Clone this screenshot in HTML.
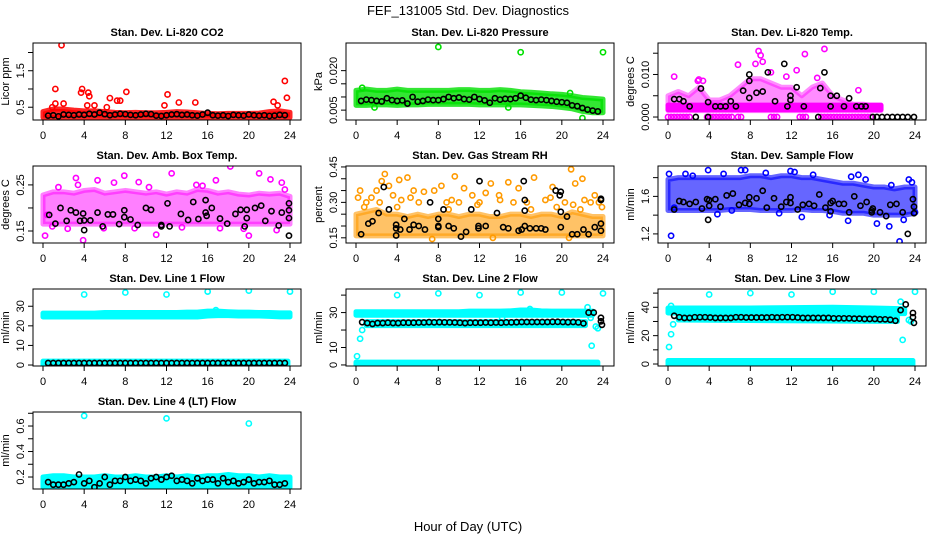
<!DOCTYPE html>
<html><head><meta charset="utf-8">
<style>
html,body{margin:0;padding:0;background:#fff;}
svg{display:block;font-family:"Liberation Sans",sans-serif;}
</style></head>
<body>
<svg id="chart" width="936" height="540" viewBox="0 0 936 540" xmlns="http://www.w3.org/2000/svg">
<text x="468" y="15" text-anchor="middle" font-size="13">FEF_131005  Std. Dev. Diagnostics</text>
<text x="468" y="531" text-anchor="middle" font-size="13">Hour of Day (UTC)</text>
</svg>
<script>
const hours=[0,1,2,3,4,5,6,7,8,9,10,11,12,13,14,15,16,17,18,19,20,21,22,23,24];
const halfHours=[0.5,1,1.5,2,2.5,3,3.5,4,4.5,5,5.5,6,6.5,7,7.5,8,8.5,9,9.5,10,10.5,11,11.5,12,12.5,13,13.5,14,14.5,15,15.5,16,16.5,17,17.5,18,18.5,19,19.5,20,20.5,21,21.5,22,22.5,23,23.5];
const xTicks=[0,4,8,12,16,20,24];
const fullSpan=[0,23.8];

// CO2
const co2Lo=[0.22,0.22,0.22,0.22,0.22,0.22,0.22,0.22,0.22,0.22,0.22,0.22,0.22,0.22,0.22,0.22,0.22,0.22,0.22,0.22,0.22,0.22,0.22,0.22,0.22];
const co2Hi=[0.38,0.45,0.45,0.42,0.4,0.4,0.38,0.36,0.35,0.36,0.35,0.35,0.36,0.38,0.37,0.35,0.33,0.32,0.33,0.33,0.33,0.34,0.38,0.4,0.36];
const co2OutX=[1.8,1.2,3.8,3.7,4.4,4.5,6.5,7.2,7.5,8.1,12.1,13.2,14.8,22.4,23.5,23.7,1.2,2.0,5.0,6.2,11.8,0.9,4.3,22.8];
const co2OutY=[2.2,1.0,1.0,0.9,0.9,0.8,0.75,0.68,0.68,0.92,0.85,0.63,0.63,0.65,1.22,0.76,0.6,0.6,0.55,0.5,0.55,0.5,0.55,0.55];
const co2BlkY=[0.27,0.28,0.25,0.3,0.29,0.28,0.3,0.29,0.32,0.3,0.35,0.31,0.28,0.3,0.32,0.31,0.29,0.28,0.3,0.32,0.31,0.27,0.26,0.28,0.3,0.31,0.29,0.3,0.28,0.27,0.3,0.35,0.28,0.27,0.28,0.26,0.29,0.28,0.27,0.3,0.28,0.27,0.28,0.26,0.27,0.29,0.28];
const co2Ticks=[0.5,1.0,1.5,2.0];
const co2Labels=["0.5","","1.5",""];

// Pressure
const presLo=[0.0068,0.0068,0.007,0.007,0.0068,0.007,0.007,0.0072,0.0072,0.0072,0.0072,0.0072,0.007,0.007,0.007,0.007,0.007,0.0068,0.0066,0.0064,0.006,0.0055,0.0045,0.004,0.004];
const presHi=[0.0125,0.013,0.0125,0.0125,0.013,0.0125,0.0125,0.0125,0.0125,0.0125,0.0128,0.0128,0.0125,0.0125,0.0128,0.0125,0.012,0.0118,0.0115,0.0112,0.011,0.0105,0.0098,0.0095,0.0092];
const presOutX=[8,16,24,0.6,22,1.8,20.8,14.8];
const presOutY=[0.029,0.027,0.027,0.0135,0.002,0.006,0.0115,0.006];
const presBlkY=[0.0085,0.009,0.0088,0.0085,0.0083,0.0095,0.0088,0.0085,0.0087,0.0075,0.01,0.0082,0.0085,0.009,0.0088,0.0088,0.0092,0.01,0.0095,0.0098,0.0092,0.009,0.01,0.0092,0.0087,0.0078,0.0095,0.009,0.0093,0.0092,0.0095,0.0105,0.0097,0.009,0.0088,0.009,0.0088,0.0085,0.0082,0.008,0.0078,0.0068,0.0065,0.0058,0.0052,0.0048,0.0045];
const presTicks=[0.005,0.010,0.015,0.020];
const presLabels=["0.005","","","0.020"];

// Li-820 temp
const tempBandX=[0,1,2,3,4,5,6,7,8,9,10,11,12,13,14,15,16,17,18,19,20,20.7];
const tempLo=[0.0015,0.0015,0.0015,0.0015,0.0015,0.0015,0.0015,0.0015,0.0015,0.0015,0.0015,0.0015,0.0015,0.0015,0.0015,0.0015,0.0015,0.0015,0.0015,0.0015,0.0015,0.0015];
const tempHi=[0.005,0.006,0.005,0.007,0.004,0.004,0.005,0.007,0.009,0.009,0.008,0.007,0.007,0.005,0.007,0.008,0.005,0.004,0.003,0.003,0.0025,0.0025];
const tempBaseX=[0,20.7];
const tempBaseLo=[0.0017,0.0017];
const tempBaseHi=[0.0028,0.0028];
const tempZeroX=[0,0.3,0.6,0.9,1.2,1.5,1.8,2.1,3.8,4.1,4.4,4.7,5.0,5.3,5.6,5.9,6.2,6.8,7.1,10.0,10.3,10.6,12.8,13.1,13.4,14.9,15.2,15.5,15.8,16.1,16.4,16.7,17.0,17.3,17.6,17.9,18.2,18.5,18.8,19.1,19.4,19.7];
const tempZeroY=tempZeroX.map(()=>0);
const tempOutX=[8.8,9.0,15.2,13.3,6.8,9.2,12.5,0.6,3.0,10.0,11.5,18.5,8.5,14.5,2.9,3.4];
const tempOutY=[0.0155,0.0145,0.016,0.0148,0.0123,0.013,0.011,0.0095,0.0088,0.0105,0.0095,0.0063,0.0125,0.0092,0.0085,0.0085];
const tempBlkX=[0.6,1.1,1.5,2.1,2.7,3.2,3.9,3.9,4.6,5.1,5.6,6.1,6.6,7.3,7.9,7.9,7.9,8.6,9.2,9.7,10.4,11.3,11.6,11.9,11.9,12.5,13.2,14.6,14.8,15.2,15.8,15.8,16.4,17.1,17.6,18.3,18.8,19.2,19.9,20.3,20.8,21.3,21.8,22.3,22.8,23.3,23.9];
const tempBlkY=[0.0042,0.0042,0.0037,0.0025,0,0.0067,0.0035,0,0.0025,0.0025,0.0025,0.0037,0.0025,0.0062,0.01,0.0085,0.0045,0.0057,0.006,0.0105,0.0037,0.0125,0.0025,0.005,0.004,0.007,0.0025,0,0.0068,0.0105,0.005,0.0025,0.005,0.0025,0.0044,0.0025,0.0025,0.0025,0,0,0,0,0,0,0,0,0];
const tempTicks=[0,0.005,0.010,0.015];
const tempLabels=["0.000","","0.010",""];

// Amb box temp
const ambLo=[0.165,0.165,0.165,0.165,0.165,0.165,0.165,0.165,0.165,0.165,0.165,0.165,0.165,0.165,0.165,0.165,0.165,0.165,0.165,0.165,0.165,0.165,0.165,0.165,0.165];
const ambHi=[0.228,0.235,0.235,0.232,0.238,0.24,0.232,0.235,0.238,0.235,0.232,0.235,0.23,0.235,0.232,0.24,0.238,0.232,0.235,0.23,0.228,0.232,0.23,0.232,0.225];
const ambOutX=[0.2,3.9,3.2,5.3,7.9,12.5,18.2,21,22.1,23.2,16.8,9.3,0.9,20,11,6.9,14.9,3.4,0.4,2.4,5.9,8.9,13.5,17.2,19.5,22.7,1.5,10.3,15.5,23.5];
const ambOutY=[0.14,0.13,0.265,0.26,0.27,0.275,0.29,0.275,0.262,0.255,0.26,0.256,0.16,0.14,0.142,0.255,0.25,0.25,0.185,0.155,0.156,0.156,0.158,0.156,0.155,0.152,0.245,0.245,0.248,0.24];
const ambBlkX=[0.6,1.2,1.7,2.3,2.7,3.2,3.6,3.9,4.0,4.0,4.6,5.3,5.8,6.3,6.8,7.4,7.9,7.9,8.5,9.2,10,10.5,11.5,11.5,12.1,12.3,13.4,14.1,14.6,15.1,15.8,15.8,15.9,16.4,17.2,17.9,18.7,19.2,19.6,19.8,19.8,20.6,21.2,21.6,22.2,22.9,23.2,23.9,23.9,23.9,23.9];
const ambBlkY=[0.185,0.166,0.2,0.172,0.195,0.19,0.172,0.188,0.173,0.152,0.173,0.19,0.16,0.186,0.186,0.165,0.195,0.18,0.175,0.163,0.2,0.196,0.163,0.16,0.21,0.16,0.187,0.174,0.213,0.176,0.19,0.217,0.183,0.2,0.177,0.166,0.187,0.196,0.16,0.196,0.178,0.2,0.205,0.172,0.193,0.162,0.19,0.21,0.195,0.178,0.14];
const ambTicks=[0.15,0.20,0.25];
const ambLabels=["0.15","","0.25"];

// RH
const rhLo=[0.158,0.158,0.158,0.158,0.158,0.158,0.158,0.158,0.158,0.158,0.158,0.158,0.158,0.158,0.158,0.158,0.158,0.158,0.158,0.158,0.158,0.158,0.158,0.158,0.158];
const rhHi=[0.25,0.26,0.27,0.25,0.25,0.24,0.25,0.24,0.25,0.25,0.24,0.25,0.25,0.24,0.24,0.25,0.25,0.24,0.25,0.25,0.24,0.26,0.25,0.24,0.24];
const rhOutX=[0.2,0.4,1.5,2.0,2.5,2.8,3.2,4.2,5.0,5.6,6.6,7.6,8.3,9.6,10.5,11.3,12.6,13.1,14.8,15.8,17.3,19.1,20.9,21.3,22.0,23.2,1.0,4.4,6.1,8.8,10.0,12.0,14.0,16.6,18.4,20.3,22.2,23.6,7.4,13.3,20.7,4.0,9.0,17,19.5,21.8,0.8,2.3,3.6,5.3,9.3,11.8,13.9,15.3,18.9,21.1,22.8,23.9];
const rhOutY=[0.32,0.35,0.32,0.35,0.39,0.42,0.37,0.395,0.405,0.35,0.345,0.35,0.37,0.41,0.36,0.33,0.34,0.38,0.385,0.36,0.405,0.365,0.44,0.38,0.4,0.33,0.3,0.31,0.3,0.3,0.3,0.3,0.31,0.3,0.31,0.3,0.31,0.3,0.145,0.15,0.15,0.28,0.27,0.27,0.28,0.27,0.28,0.3,0.33,0.32,0.31,0.29,0.33,0.3,0.32,0.29,0.3,0.28];
const rhBlkX=[0.5,1.2,1.6,2.2,2.7,3.2,3.9,3.9,3.9,4.3,4.7,5.2,5.6,6.1,6.7,7.2,8.0,8.0,8.0,8.5,9.0,9.5,10.2,10.7,11.2,11.9,11.9,12.0,12.6,13.7,14.3,14.8,15.8,16.1,16.3,16.4,16.4,16.4,16.9,17.5,18.0,18.4,19.4,19.8,19.9,19.9,19.9,20.5,21.0,21.5,22.1,22.6,23.2,23.8,23.8,23.8,23.8];
const rhBlkY=[0.165,0.21,0.22,0.255,0.365,0.27,0.205,0.19,0.16,0.185,0.23,0.185,0.205,0.2,0.185,0.3,0.195,0.2,0.23,0.27,0.2,0.19,0.155,0.175,0.27,0.2,0.19,0.39,0.2,0.255,0.195,0.19,0.18,0.185,0.39,0.31,0.265,0.2,0.19,0.19,0.19,0.185,0.35,0.33,0.345,0.26,0.195,0.24,0.165,0.165,0.185,0.165,0.195,0.21,0.31,0.315,0.18];
const rhTicks=[0.15,0.20,0.25,0.30,0.35,0.40,0.45];
const rhLabels=["0.15","","","0.30","","","0.45"];

// Sample flow
const sfLo=[1.45,1.45,1.45,1.45,1.45,1.45,1.46,1.46,1.46,1.45,1.45,1.45,1.45,1.46,1.45,1.45,1.44,1.42,1.42,1.42,1.40,1.40,1.40,1.40,1.42];
const sfHi=[1.78,1.8,1.8,1.8,1.8,1.8,1.8,1.8,1.82,1.82,1.8,1.82,1.82,1.8,1.8,1.78,1.76,1.74,1.74,1.72,1.7,1.7,1.68,1.7,1.7];
const sfOutX=[0.1,0.3,1.7,3.9,7.1,7.5,11.9,12.3,17.5,18.5,20.3,21.5,21.7,22.5,22.9,23.4,23.7,17.8,13.0,6.2,0.6,15.7,2.4,5.4,9.5,14.1,19.2,24.0,10.8,4.8];
const sfOutY=[1.84,1.18,1.84,1.88,1.88,1.88,1.87,1.86,1.34,1.83,1.31,1.28,1.72,1.12,1.35,1.78,1.75,1.81,1.38,1.45,1.48,1.4,1.82,1.84,1.85,1.83,1.78,1.43,1.42,1.41];
const sfBlkX=[0.6,1.1,1.5,2.1,2.7,3.3,3.8,3.9,4.0,4.0,4.6,5.1,5.7,6.3,6.9,7.5,7.9,7.9,8.6,9.2,9.6,10.3,11.0,11.5,11.9,11.9,12.6,13.1,13.7,14.2,14.7,15.3,15.8,15.8,16.0,16.6,17.1,17.6,18.1,18.7,19.3,19.8,19.8,19.9,20.6,21.2,21.6,22.2,22.8,23.3,23.8,23.9,23.9];
const sfBlkY=[1.46,1.55,1.54,1.52,1.54,1.47,1.57,1.35,1.5,1.56,1.57,1.49,1.61,1.63,1.51,1.53,1.59,1.52,1.58,1.66,1.48,1.58,1.49,1.54,1.53,1.59,1.46,1.51,1.52,1.5,1.62,1.48,1.44,1.53,1.55,1.52,1.52,1.43,1.6,1.5,1.54,1.45,1.43,1.47,1.43,1.39,1.51,1.52,1.43,1.2,1.57,1.49,1.42];
const sfTicks=[1.2,1.4,1.6,1.8];
const sfLabels=["1.2","","1.6",""];

// Line 1
const l1Lo=[24.5,24.5,24.5,24.5,24.5,24.5,24.5,24.5,24.5,24.5,24.5,24.5,24.5,24.5,24.5,24.5,25,25.2,25.2,25,25,25,24.8,24.6,24.6];
const l1Hi=[26.5,26.5,26.5,26.5,26.5,26.5,26.8,26.8,26.8,26.8,26.8,26.8,26.8,26.8,27,27,27.5,27.5,27.2,27,27,26.8,26.8,26.6,26.6];
const l1ZeroLo=[0,0];
const l1ZeroHi=[2,2];
const l1OutX=[4,8,12,16,20,24,16.8];
const l1OutY=[36,37,36,37.5,38,37.5,28];
const l1BlkY=[1,1,1,1,1,1,1,1,1,1,1,1,1,1,1,1,1,1,1,1,1,1,1,1,1,1,1,1,1,1,1,1,1,1,1,1,1,1,1,1,1,1,1,1,1,1,1];
const l1Ticks=[0,10,20,30];
const l1Labels=["0","10","20","30"];

// Line 2
const l2Lo=[28.5,28.5,28.5,28.5,28.5,28.5,28.5,28.5,28.5,28.5,28.5,28.5,28.5,28.5,28.5,28.5,28.5,28.5,28.5,28.5,28.5,28.5,28.5,28.5];
const l2Hi=[30.5,30.5,30.5,30.5,30.5,30.5,30.5,30.5,30.5,30.5,30.5,30.8,30.8,30.8,30.8,31,31.5,31.5,31,30.8,30.8,30.8,30.8,30.8];
const l2Band2X=[1,22.3];
const l2Band2Lo=[22.5,22.5];
const l2Band2Hi=[24.8,24.8];
const l2ZeroX=[0,23.5];
const l2ZeroLo=[-0.2,-0.2];
const l2ZeroHi=[1.6,1.6];
const l2OutX=[0.1,0.4,0.6,1.0,4,8,12,16,20,24,16.9,22.5,22.8,22.9,23.3,23.5,14.2];
const l2OutY=[5,15,20,24,40,41,40,41.5,41.5,41,32,33,27,11,22,21,27];
const l2BlkX=[0.6,1.1,1.6,2.1,2.6,3.1,3.6,4.1,4.6,5.1,5.6,6.1,6.6,7.1,7.6,8.1,8.6,9.1,9.6,10.1,10.6,11.1,11.6,12.1,12.6,13.1,13.6,14.1,14.6,15.1,15.6,16.1,16.6,17.1,17.6,18.1,18.6,19.1,19.6,20.1,20.6,21.1,21.6,22.1,22.6,23.1,23.8,23.8,23.9];
const l2BlkY=[24.5,24,23.5,24,24,24.2,24,24,24.2,24.2,24.2,24.3,24.3,24.5,24.4,24.5,24.4,24.4,24.3,24.2,24,24.2,24.2,24.2,24.3,24.2,24.3,24.2,24.4,24.4,24.5,24.6,24.6,24.6,24.6,24.6,24.6,24.7,24.7,24.6,24.5,24.6,24.4,23.8,30,30,27,25,23];
const l2Ticks=[0,10,20,30,40];
const l2Labels=["0","10","","30",""];

// Line 3
const l3BandX=[0,4,8,12,16,20,23];
const l3Lo=[36,36,36,36.2,36.2,35.8,35.5];
const l3Hi=[39.5,39.5,39.5,39.8,40,39.5,39];
const l3Band2X=[1,22.3];
const l3Band2Lo=[31,30];
const l3Band2Hi=[34,33];
const l3ZeroX=[0,23.8];
const l3ZeroLo=[-0.5,-0.5];
const l3ZeroHi=[2.5,2.5];
const l3OutX=[0.1,0.3,0.5,0.3,4,8,12,16,20,24,22.6,22.8,23.4,23.6];
const l3OutY=[12,21,28,41,49,50,49,51,51,51,44,17,31,30];
const l3BlkX=[0.6,1.1,1.6,2.1,2.6,3.1,3.6,4.1,4.6,5.1,5.6,6.1,6.6,7.1,7.6,8.1,8.6,9.1,9.6,10.1,10.6,11.1,11.6,12.1,12.6,13.1,13.6,14.1,14.6,15.1,15.6,16.1,16.6,17.1,17.6,18.1,18.6,19.1,19.6,20.1,20.6,21.1,21.6,22.1,22.6,23.1,23.8,23.8,23.9];
const l3BlkY=[34,33,32.5,32.5,33,33,33,32.8,32.5,32.5,32.5,32.5,33,33,32.8,32.8,32.8,32.8,32.8,33,32.8,33,33,33,32.8,32.5,32.5,32.5,32.5,32.5,32.5,32.2,32.2,32.2,32.2,32,32,31.8,31.8,31.8,31.5,31.5,31.2,30.5,38,42,36,33,29];
const l3Ticks=[0,10,20,30,40,50];
const l3Labels=["0","","20","","40",""];

// Line 4
const l4Lo=[0.12,0.12,0.12,0.12,0.12,0.12,0.12,0.12,0.12,0.12,0.12,0.12,0.12,0.12,0.12,0.12,0.12,0.12,0.12,0.12,0.12,0.12,0.12,0.12,0.12];
const l4Hi=[0.2,0.21,0.21,0.2,0.2,0.2,0.21,0.2,0.2,0.21,0.2,0.2,0.21,0.2,0.21,0.2,0.21,0.21,0.22,0.21,0.21,0.2,0.21,0.2,0.2];
const l4OutX=[4,12,20];
const l4OutY=[0.68,0.66,0.62];
const l4BlkY=[0.16,0.14,0.14,0.14,0.15,0.16,0.22,0.15,0.17,0.12,0.15,0.2,0.14,0.17,0.17,0.2,0.17,0.18,0.17,0.15,0.19,0.2,0.18,0.2,0.21,0.17,0.18,0.17,0.15,0.19,0.17,0.18,0.18,0.15,0.19,0.16,0.17,0.15,0.16,0.18,0.15,0.16,0.16,0.17,0.14,0.14,0.15];
const l4Ticks=[0.2,0.3,0.4,0.5,0.6,0.7];
const l4Labels=["0.2","","0.4","","0.6",""];

const NS="http://www.w3.org/2000/svg";
const svg=document.getElementById('chart');
const colLeft=[33,346,658], rowTop=[43,166,289,412], boxW=268, boxH=77;

function mk(tag,attrs,parent){const e=document.createElementNS(NS,tag);for(const k in attrs)e.setAttribute(k,attrs[k]);parent.appendChild(e);return e;}

function panel(p){
  const L=colLeft[p.col],T=rowTop[p.row];
  const g=mk('g',{},svg);
  
  
  const sx=h=>L+10+h*(247/24);
  const sy=v=>T+boxH-(v-p.ymin)/(p.ymax-p.ymin)*boxH;
  const clipId='clip-'+p.name;
  const cp=mk('clipPath',{id:clipId},g);mk('rect',{x:L,y:T,width:boxW,height:boxH},cp);
  const t=mk('text',{x:L+boxW/2,y:T-7,'text-anchor':'middle','font-size':'11','font-weight':'bold'},g);
  t.textContent=p.title;
  
  
  const yl=mk('text',{transform:`translate(${L-24},${T+boxH/2}) rotate(-90)`,'text-anchor':'middle','font-size':'11'},g);
  yl.textContent=p.ylab;
  
  
  xTicks.forEach(h=>{
    mk('line',{x1:sx(h),x2:sx(h),y1:T+boxH,y2:T+boxH+5,stroke:'#000'},g);
    const tx=mk('text',{x:sx(h),y:T+boxH+19,'text-anchor':'middle','font-size':'11'},g);
    tx.textContent=h;
    
    
  });
  p.ticks.forEach((v,i)=>{
    mk('line',{x1:L-5,x2:L,y1:sy(v),y2:sy(v),stroke:'#000'},g);
    if(p.labels[i]){
      const ty=mk('text',{transform:`translate(${L-9},${sy(v)}) rotate(-90)`,'text-anchor':'middle','font-size':'11'},g);
      ty.textContent=p.labels[i];
      
      
    }
  });
  const pg=mk('g',{'clip-path':`url(#${clipId})`},g);
  (p.bands||[]).forEach(b=>{
    const pts=b.x.map((h,i)=>sx(h)+','+sy(b.hi[i])).concat(b.x.slice().reverse().map((h,i)=>sx(h)+','+sy(b.lo[b.x.length-1-i])));
    const op=b.op!==undefined?b.op:1;
    const poly=mk('polygon',{points:pts.join(' '),fill:p.color,stroke:p.color,'stroke-width':5,'stroke-linejoin':'round','fill-opacity':op,'stroke-opacity':op},pg);
    
    
  });
  (p.series||[]).forEach(s=>{
    s.x.forEach((h,i)=>{
      const c=mk('circle',{cx:sx(h),cy:sy(s.y[i]),r:2.6,fill:'none',stroke:s.color,'stroke-width':1.6},pg);
      
      
    });
  });
  const box=mk('rect',{x:L,y:T,width:boxW,height:boxH,fill:'none',stroke:'#000'},g);
  
  
}
const red='#ff0000',grn='#00e000',mag='#ff00ff',org='#ff9a00',blu='#0000ff',cya='#00ffff',blk='#000';
const panels=[
 {name:'co2',col:0,row:0,title:'Stan. Dev. Li-820 CO2',ylab:'Licor ppm',ymin:0.15,ymax:2.26,ticks:co2Ticks,labels:co2Labels,color:red,
  bands:[{x:hours,lo:co2Lo,hi:co2Hi,op:0.85}],series:[{x:co2OutX,y:co2OutY,color:red,pname:'co2-point'},{x:halfHours,y:co2BlkY,color:blk,pname:'co2-hourly-point'}]},
 {name:'pressure',col:1,row:0,title:'Stan. Dev. Li-820 Pressure',ylab:'kPa',ymin:0.00125,ymax:0.0305,ticks:presTicks,labels:presLabels,color:grn,
  bands:[{x:hours,lo:presLo,hi:presHi,op:0.8}],series:[{x:presOutX,y:presOutY,color:grn,pname:'pressure-point'},{x:halfHours,y:presBlkY,color:blk,pname:'pressure-hourly-point'}]},
 {name:'licor-temp',col:2,row:0,title:'Stan. Dev. Li-820 Temp.',ylab:'degrees C',ymin:-0.0007,ymax:0.0174,ticks:tempTicks,labels:tempLabels,color:mag,
  bands:[{x:tempBandX,lo:tempLo,hi:tempHi,op:0.45},{x:tempBaseX,lo:tempBaseLo,hi:tempBaseHi,op:1}],series:[{x:tempZeroX,y:tempZeroY,color:mag,pname:'temp-zero-point'},{x:tempOutX,y:tempOutY,color:mag,pname:'temp-point'},{x:tempBlkX,y:tempBlkY,color:blk,pname:'temp-hourly-point'}]},
 {name:'amb-box-temp',col:0,row:1,title:'Stan. Dev. Amb. Box Temp.',ylab:'degrees C',ymin:0.124,ymax:0.291,ticks:ambTicks,labels:ambLabels,color:mag,
  bands:[{x:hours,lo:ambLo,hi:ambHi,op:0.5}],series:[{x:ambOutX,y:ambOutY,color:mag,pname:'amb-point'},{x:ambBlkX,y:ambBlkY,color:blk,pname:'amb-hourly-point'}]},
 {name:'gas-rh',col:1,row:1,title:'Stan. Dev. Gas Stream RH',ylab:'percent',ymin:0.128,ymax:0.454,ticks:rhTicks,labels:rhLabels,color:org,
  bands:[{x:hours,lo:rhLo,hi:rhHi,op:0.6}],series:[{x:rhOutX,y:rhOutY,color:org,pname:'rh-point'},{x:rhBlkX,y:rhBlkY,color:blk,pname:'rh-hourly-point'}]},
 {name:'sample-flow',col:2,row:1,title:'Stan. Dev. Sample Flow',ylab:'ml/min',ymin:1.103,ymax:1.924,ticks:sfTicks,labels:sfLabels,color:blu,
  bands:[{x:hours,lo:sfLo,hi:sfHi,op:0.6}],series:[{x:sfOutX,y:sfOutY,color:blu,pname:'sample-flow-point'},{x:sfBlkX,y:sfBlkY,color:blk,pname:'sample-flow-hourly-point'}]},
 {name:'line1-flow',col:0,row:2,title:'Stan. Dev. Line 1 Flow',ylab:'ml/min',ymin:-0.5,ymax:38.8,ticks:l1Ticks,labels:l1Labels,color:cya,
  bands:[{x:hours,lo:l1Lo,hi:l1Hi},{x:fullSpan,lo:l1ZeroLo,hi:l1ZeroHi}],series:[{x:l1OutX,y:l1OutY,color:cya,pname:'line1-point'},{x:halfHours,y:l1BlkY,color:blk,pname:'line1-hourly-point'}]},
 {name:'line2-flow',col:1,row:2,title:'Stan. Dev. Line 2 Flow',ylab:'ml/min',ymin:-0.6,ymax:43.5,ticks:l2Ticks,labels:l2Labels,color:cya,
  bands:[{x:hours.slice(0,24),lo:l2Lo,hi:l2Hi},{x:l2Band2X,lo:l2Band2Lo,hi:l2Band2Hi},{x:l2ZeroX,lo:l2ZeroLo,hi:l2ZeroHi}],series:[{x:l2OutX,y:l2OutY,color:cya,pname:'line2-point'},{x:l2BlkX,y:l2BlkY,color:blk,pname:'line2-hourly-point'}]},
 {name:'line3-flow',col:2,row:2,title:'Stan. Dev. Line 3 Flow',ylab:'ml/min',ymin:-1.4,ymax:52.9,ticks:l3Ticks,labels:l3Labels,color:cya,
  bands:[{x:l3BandX,lo:l3Lo,hi:l3Hi},{x:l3Band2X,lo:l3Band2Lo,hi:l3Band2Hi},{x:l3ZeroX,lo:l3ZeroLo,hi:l3ZeroHi}],series:[{x:l3OutX,y:l3OutY,color:cya,pname:'line3-point'},{x:l3BlkX,y:l3BlkY,color:blk,pname:'line3-hourly-point'}]},
 {name:'line4-flow',col:0,row:3,title:'Stan. Dev. Line 4 (LT) Flow',ylab:'ml/min',ymin:0.106,ymax:0.71,ticks:l4Ticks,labels:l4Labels,color:cya,
  bands:[{x:hours,lo:l4Lo,hi:l4Hi}],series:[{x:l4OutX,y:l4OutY,color:cya,pname:'line4-point'},{x:halfHours,y:l4BlkY,color:blk,pname:'line4-hourly-point'}]}
];
panels.forEach(panel);
</script>
</body></html>
